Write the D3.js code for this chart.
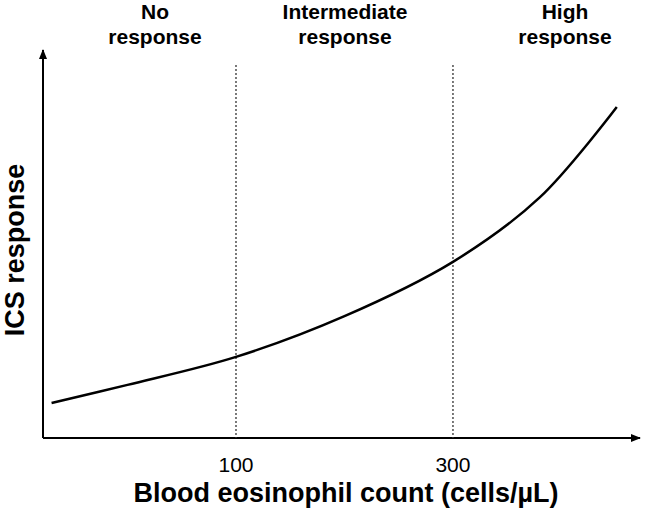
<!DOCTYPE html><html><head><script src="https://d3js.org/d3.v7.min.js"></script>
<style>body{margin:0;background:#fff}</style></head><body><script>
const curveX=[-70,0,100,200,300,380,451];
const curveY=[9,13.7,20.9,31.4,45.4,62,85.3];
const tickValues=[100,300];
const regionLabels=[["No","response"],["Intermediate","response"],["High","response"]];
const regionCenters=[155,345,565];
const W=651,H=508;
const svg=d3.select("body").append("svg").attr("width",W).attr("height",H).style("font-family","Liberation Sans, Arial, sans-serif");
const x=d3.scaleLinear().domain([-77.9,472.4]).range([43,640]);
const y=d3.scaleLinear().domain([0,100]).range([438,50]);
const defs=svg.append("defs");
defs.append("marker").attr("id","ar").attr("viewBox","0 0 10 10").attr("refX",9).attr("refY",5).attr("markerWidth",10).attr("markerHeight",10).attr("markerUnits","userSpaceOnUse").attr("orient","auto")
 .append("path").attr("d","M0,1L10,5L0,9Z").attr("fill","#000");
svg.append("line").attr("x1",43).attr("y1",438).attr("x2",x.range()[1]).attr("y2",438).attr("stroke","#000").attr("stroke-width",2).attr("marker-end","url(#ar)");
svg.append("line").attr("x1",43).attr("y1",438).attr("x2",43).attr("y2",y(100)).attr("stroke","#000").attr("stroke-width",2).attr("marker-end","url(#ar)");
tickValues.forEach(v=>{
 svg.append("line").attr("x1",x(v)).attr("x2",x(v)).attr("y1",65).attr("y2",438).attr("stroke","#333").attr("stroke-width",1.3).attr("stroke-dasharray","2,2");
 svg.append("text").attr("x",x(v)).attr("y",472).attr("text-anchor","middle").attr("font-size",21).text(v);
});
const pts=curveX.map((d,i)=>[x(d),y(curveY[i])]);
svg.append("path").attr("d",d3.line().curve(d3.curveCatmullRom.alpha(0.5))(pts)).attr("fill","none").attr("stroke","#000").attr("stroke-width",2.5);
regionLabels.forEach((l,i)=>{
 l.forEach((t,j)=>svg.append("text").attr("x",regionCenters[i]).attr("y",19+j*25).attr("text-anchor","middle").attr("font-size",21).attr("font-weight","bold").text(t));
});
svg.append("text").attr("x",346).attr("y",502).attr("text-anchor","middle").attr("font-size",27).attr("font-weight","bold").text("Blood eosinophil count (cells/µL)");
svg.append("text").attr("transform","translate(24,250) rotate(-90)").attr("text-anchor","middle").attr("font-size",27).attr("font-weight","bold").text("ICS response");
</script></body></html>
